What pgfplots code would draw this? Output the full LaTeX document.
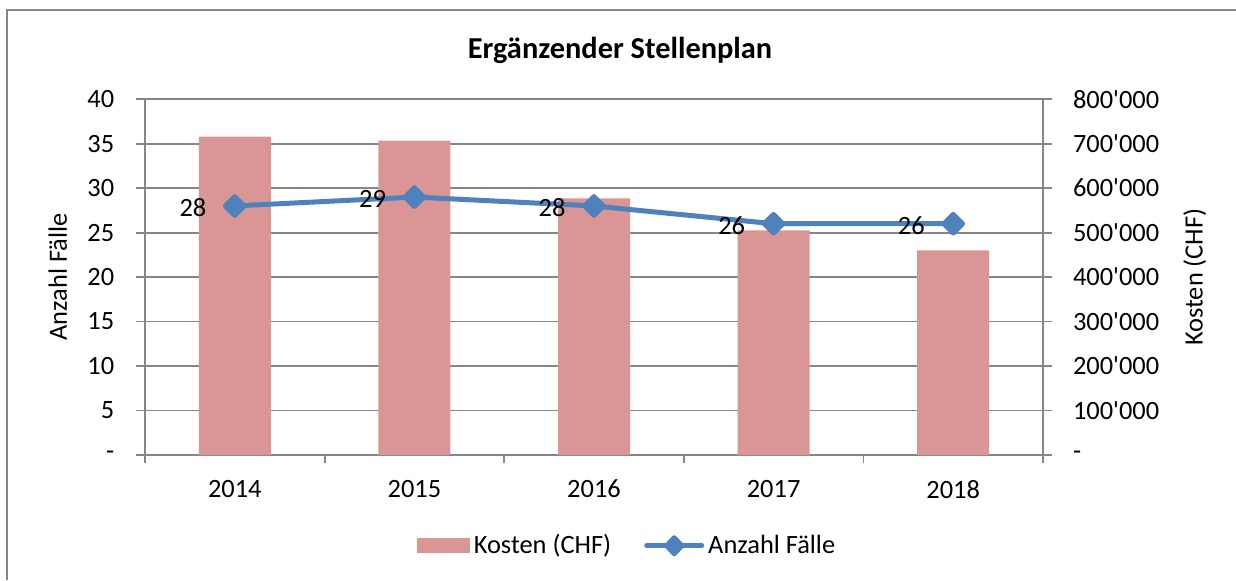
\documentclass[border=0pt]{standalone}
\usepackage{fontspec}
\setmainfont{Carlito}[Ligatures=TeXOff]
\usepackage{pgfplots}
\pgfplotsset{compat=1.18}
\definecolor{barcol}{HTML}{D99694}
\definecolor{linecol}{HTML}{4F81BD}
\definecolor{gridcol}{HTML}{868686}
\newcommand{\chartfont}{\fontsize{13.2pt}{15.8pt}\selectfont}
\begin{document}
\begin{tikzpicture}[font=\chartfont]
\useasboundingbox (0,0) rectangle (618pt,290pt);
\draw[gridcol, line width=1pt] (3.5pt,0pt) -- (3.5pt,285pt) -- (618pt,285pt);
\node[font=\fontsize{15.2pt}{18pt}\selectfont\bfseries] at (310pt,265pt) {Ergänzender Stellenplan};

\begin{axis}[
  scale only axis, width=449pt, height=177.9pt,
  at={(72.5pt,62.5pt)}, anchor=south west,
  xmin=-0.5, xmax=4.5, ymin=0, ymax=800000,
  axis y line*=right, axis x line*=bottom,
  axis line style={gridcol, line width=0.9pt, -},
  tick style={gridcol, line width=0.9pt},
  tick align=outside, major tick length=4.5pt, minor tick length=4pt,
  xtick={0,1,2,3,4}, xticklabels={2014,2015,2016,2017,2018},
  major x tick style={draw=none},
  minor xtick={-0.5,0.5,1.5,2.5,3.5,4.5},
  ytick={0,100000,200000,300000,400000,500000,600000,700000,800000},
  yticklabels={-,100'000,200'000,300'000,400'000,500'000,600'000,700'000,800'000},
  scaled y ticks=false,
  ymajorgrids, grid style={gridcol, line width=0.9pt},
  yticklabel style={font=\chartfont, xshift=7pt},
  xticklabel style={font=\chartfont, yshift=-4.5pt},
  ylabel={Kosten (CHF)},
  every axis y label/.style={at={(axis description cs:1.169,0.5)}, rotate=90, anchor=center, font=\chartfont},
]
\addplot[ybar, bar width=36pt, fill=barcol, draw=none] coordinates {
  (0,715900) (1,706900) (2,577200) (3,505200) (4,460200)
};
\end{axis}

\begin{axis}[
  scale only axis, width=449pt, height=177.9pt,
  at={(72.5pt,62.5pt)}, anchor=south west,
  xmin=-0.5, xmax=4.5, ymin=0, ymax=40,
  axis y line*=left, axis x line=none,
  axis line style={gridcol, line width=0.9pt, -},
  tick style={gridcol, line width=0.9pt},
  tick align=outside, major tick length=4.5pt,
  ytick={0,5,10,15,20,25,30,35,40},
  yticklabels={-,5,10,15,20,25,30,35,40},
  yticklabel style={font=\chartfont, xshift=-7.4pt},
  ylabel={Anzahl Fälle},
  every axis y label/.style={at={(axis description cs:-0.097,0.5)}, rotate=90, anchor=center, font=\chartfont},
  clip=false,
  legend style={at={(axis description cs:0.538,-0.255)}, anchor=center, draw=none, fill=none,
    font=\chartfont, /tikz/every even column/.append style={column sep=14.5pt}},
  legend columns=2,
]
\addlegendimage{legend image code/.code={\fill[barcol] (0pt,-3.5pt) rectangle (26pt,3.5pt);}}
\addlegendentry{Kosten (CHF)}
\addplot[linecol, line width=2.5pt, line join=round,
  mark=square*, mark size=3.3pt, mark options={rotate=45, solid, fill=linecol},
  nodes near coords, point meta=explicit symbolic,
  every node near coord/.style={anchor=east, xshift=-13pt, yshift=-1pt, inner sep=0pt, text=black, font=\chartfont},
  legend image code/.code={\draw[linecol, line width=2.5pt, line cap=round] (0pt,0pt) -- (27.5pt,0pt);
     \fill[linecol] (13.75pt,4pt) -- (17.5pt,0pt) -- (13.75pt,-4pt) -- (10pt,0pt) -- cycle;}
] coordinates {
  (0,28) [28] (1,29) [29] (2,28) [28] (3,26) [26] (4,26) [26]
};
\addlegendentry{Anzahl Fälle}
\end{axis}
\end{tikzpicture}
\end{document}
